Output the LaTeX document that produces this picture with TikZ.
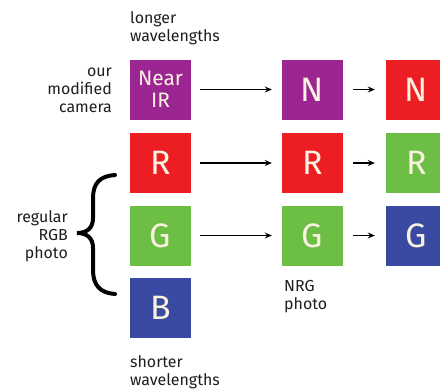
\documentclass[tikz,border=0pt]{standalone}
\usepackage{fontspec}
\setmainfont{Fira Sans}
\usetikzlibrary{arrows.meta}
\definecolor{cpurple}{RGB}{155,38,145}
\definecolor{cred}{RGB}{236,30,36}
\definecolor{cgreen}{RGB}{108,190,68}
\definecolor{cblue}{RGB}{58,74,162}
\definecolor{ctext}{RGB}{250,242,225}
\definecolor{clabel}{RGB}{30,30,30}
\tikzset{
  chan/.style={minimum width=61bp, minimum height=60bp, inner sep=0pt,
    text=ctext, font=\fontsize{34}{34}\selectfont},
  lbl/.style={inner sep=0pt, text=clabel, font=\fontsize{16}{18}\selectfont},
  flow/.style={line width=1.4bp, -{Stealth[length=7bp,width=6bp]}},
}
\begin{document}
\begin{tikzpicture}[x=1bp,y=-1bp]
\clip (0,0) rectangle (440,389);
\fill[white] (0,0) rectangle (440,389);
% column 1
\node[chan, fill=cpurple, font=\fontsize{21}{22}\selectfont, align=center] (nir) at (160.5,89.5) {Near\\IR};
\node[chan, fill=cred] (r1) at (160.5,163) {R};
\node[chan, fill=cgreen] (g1) at (160.5,235.5) {G};
\node[chan, fill=cblue] (b1) at (160.5,307.5) {B};
% column 2
\node[chan, fill=cpurple] (n2) at (312.5,89.5) {N};
\node[chan, fill=cred] (r2) at (312.5,163) {R};
\node[chan, fill=cgreen] (g2) at (312.5,235.5) {G};
% column 3
\node[chan, fill=cred] (n3) at (416.5,89.5) {N};
\node[chan, fill=cgreen] (r3) at (416.5,163) {R};
\node[chan, fill=cblue] (g3) at (416.5,235.5) {G};
% arrows
\draw[flow, shorten <=9bp, shorten >=10bp] (nir.east) -- (n2.west);
\draw[flow, shorten <=9bp, shorten >=10bp] (r1.east) -- (r2.west);
\draw[flow, shorten <=9bp, shorten >=10bp] (g1.east) -- (g2.west);
\draw[flow, shorten <=10bp, shorten >=11bp] (n2.east) -- (n3.west);
\draw[flow, shorten <=10bp, shorten >=11bp] (r2.east) -- (r3.west);
\draw[flow, shorten <=10bp, shorten >=11bp] (g2.east) -- (g3.west);
% labels
\node[lbl, align=left, anchor=north west] (longer) at (130,11) {longer\\wavelengths};
\node[lbl, align=right, anchor=east] (cam) at (112,90) {our\\modified\\camera};
\node[lbl, align=right, anchor=east] (rgb) at (68,236) {regular\\RGB\\photo};
\node[lbl, align=left, anchor=north west] (nrg) at (284,280) {NRG\\photo};
\node[lbl, align=left, anchor=north west] (shorter) at (130,355) {shorter\\wavelengths};
% brace
\draw[line width=4bp, line cap=round, line join=miter]
  (115,175) .. controls (100,176) and (93,183) .. (93,198) -- (93,218)
  .. controls (93,228) and (87,233) .. (77,233)
  .. controls (87,233) and (93,238) .. (93,248) -- (93,270)
  .. controls (93,285) and (100,293) .. (115,294);
\end{tikzpicture}
\end{document}
